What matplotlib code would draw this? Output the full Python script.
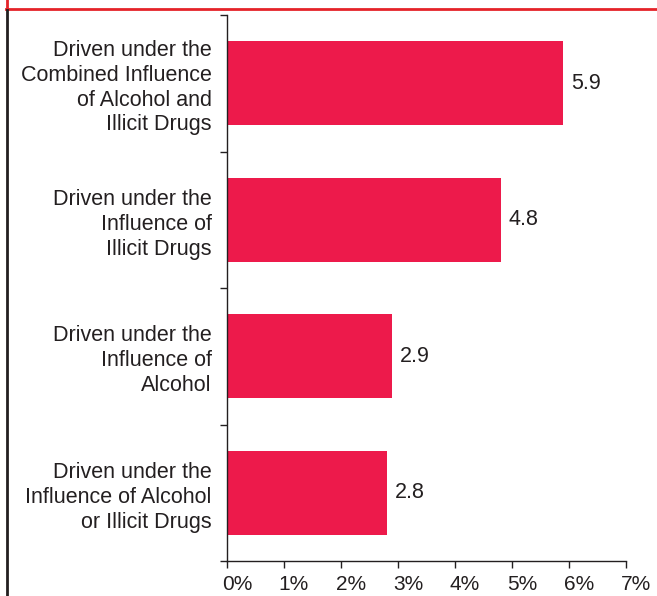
import matplotlib
matplotlib.use('Agg')
import matplotlib.pyplot as plt
import matplotlib.transforms as mtransforms
from matplotlib.lines import Line2D
from matplotlib.ticker import FixedLocator, NullFormatter

plt.rcParams['font.family'] = ['Liberation Sans', 'DejaVu Sans']

categories = [
    'Driven under the\nCombined Influence\nof Alcohol and\nIllicit Drugs',
    'Driven under the\nInfluence of\nIllicit Drugs',
    'Driven under the\nInfluence of\nAlcohol',
    'Driven under the\nInfluence of Alcohol\nor Illicit Drugs',
]
values = [5.9, 4.8, 2.9, 2.8]
x_ticks = [0, 1, 2, 3, 4, 5, 6, 7]
x_tick_labels = ['0%', '1%', '2%', '3%', '4%', '5%', '6%', '7%']

bar_color = '#ED1A4B'
text_color = '#231F20'
fs = 15.5

fig = plt.figure(figsize=(6.57, 5.96), dpi=100)
ax = fig.add_axes([227 / 657, 1 - 561 / 596, 399 / 657, 546 / 596])

# first category at the top
positions = list(range(len(categories)))[::-1]
bars = ax.barh(positions, values, height=0.615, color=bar_color, zorder=2)

for pos, val in zip(positions, values):
    ax.text(val + 0.14, pos, f'{val:.1f}', va='center', ha='left',
            fontsize=fs, color=text_color)

ax.set_xlim(0, 7)
ax.set_ylim(-0.5, len(categories) - 0.5)

ax.set_xticks(x_ticks)
ax.set_xticklabels(x_tick_labels)
ax.set_yticks(positions)
ax.set_yticklabels(categories)
ax.yaxis.set_minor_locator(FixedLocator([p + 0.5 for p in range(-1, len(categories))]))
ax.yaxis.set_minor_formatter(NullFormatter())

ax.tick_params(axis='y', which='major', length=0, pad=11, labelsize=fs,
               labelcolor=text_color)
ax.tick_params(axis='y', which='minor', direction='out', length=5, width=1,
               color=text_color)
ax.tick_params(axis='x', direction='out', length=5, width=1, pad=5,
               labelsize=15, color=text_color, labelcolor=text_color)
for lbl in ax.get_yticklabels():
    lbl.set_multialignment('right')
    lbl.set_linespacing(1.24)

# percent labels sit a little to the right of their ticks
shift = mtransforms.ScaledTranslation(10 / 100, 0, fig.dpi_scale_trans)
for lbl in ax.get_xticklabels():
    lbl.set_transform(lbl.get_transform() + shift)

for side in ['top', 'right']:
    ax.spines[side].set_visible(False)
for side in ['left', 'bottom']:
    ax.spines[side].set_color(text_color)
    ax.spines[side].set_linewidth(1)

# page frame: red rule across the top, dark rule down the left
W, H = 657, 596
fig.add_artist(Line2D([6.5 / W, 6.5 / W], [1, 1 - 8.5 / H], color='#E52329', lw=2,
                      transform=fig.transFigure))
fig.add_artist(Line2D([6 / W, 1], [1 - 8.5 / H, 1 - 8.5 / H], color='#E52329', lw=2,
                      transform=fig.transFigure))
fig.add_artist(Line2D([6.5 / W, 6.5 / W], [1 - 9.5 / H, 0], color='#231F20', lw=2,
                      transform=fig.transFigure))

fig.savefig('out.png', dpi=100)
